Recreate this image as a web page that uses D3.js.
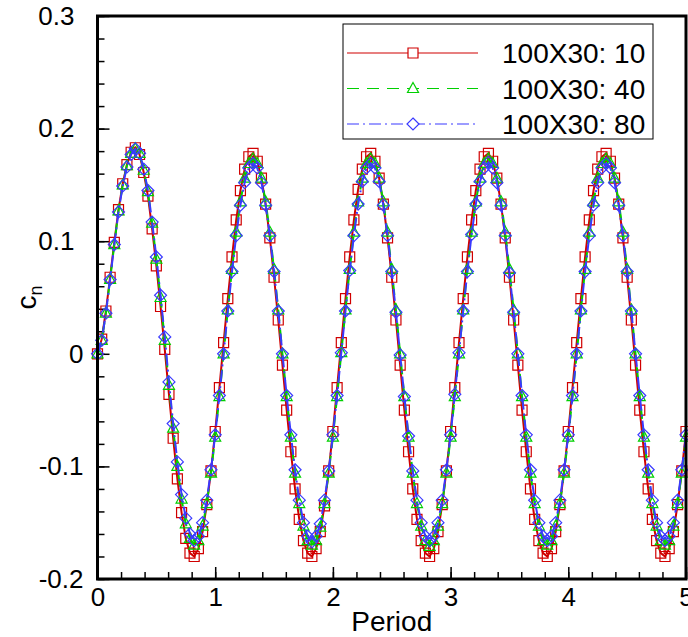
<!DOCTYPE html>
<html>
<head>
<meta charset="utf-8">
<script src="https://cdn.jsdelivr.net/npm/d3@7"></script>
<style>
    body { margin: 0; background: #fff; }
    text { font-family: "Liberation Sans", Arial, sans-serif; fill: #000; }
</style>
</head>
<body>
<svg id="chart" width="688" height="637"></svg>
<script>
// sample spacing along the period axis (28 samples per period)
const SAMPLES_PER_PERIOD = 28;

const SERIES_NAMES = ["100X30: 10", "100X30: 40", "100X30: 80"];

// c_n, one value per sample
const cn10 = [
    0.000, 0.013, 0.038, 0.068, 0.099, 0.128, 0.151, 0.168, 0.179, 0.183, 0.177, 0.161, 0.140, 0.111, 0.078, 0.042, 0.004, -0.036, -0.075, -0.111, -0.141, -0.164, -0.177,
    -0.180, -0.173, -0.158, -0.134, -0.104, -0.069, -0.030, 0.010, 0.049, 0.086, 0.119, 0.145, 0.164, 0.175, 0.178, 0.171, 0.156, 0.133, 0.103, 0.068, 0.030, -0.010, -0.050, -0.087, -0.120, -0.147, -0.166, -0.177,
    -0.180, -0.173, -0.158, -0.135, -0.104, -0.069, -0.030, 0.010, 0.049, 0.086, 0.119, 0.146, 0.164, 0.175, 0.178, 0.171, 0.156, 0.133, 0.103, 0.068, 0.030, -0.010, -0.050, -0.087, -0.120, -0.147, -0.166, -0.177,
    -0.180, -0.173, -0.158, -0.134, -0.104, -0.069, -0.030, 0.010, 0.049, 0.086, 0.119, 0.145, 0.164, 0.175, 0.178, 0.171, 0.156, 0.133, 0.103, 0.068, 0.030, -0.010, -0.050, -0.087, -0.120, -0.147, -0.166, -0.177,
    -0.180, -0.173, -0.158, -0.134, -0.104, -0.069, -0.030, 0.010, 0.049, 0.086, 0.119, 0.145, 0.164, 0.175, 0.178, 0.171, 0.156, 0.133, 0.103, 0.068, 0.030, -0.010, -0.050, -0.087, -0.120, -0.147, -0.166, -0.177,
    -0.180, -0.173, -0.158, -0.134, -0.104, -0.069
];

const cn40 = [
    0.000, 0.012, 0.036, 0.066, 0.097, 0.127, 0.150, 0.167, 0.178, 0.182, 0.178, 0.163, 0.144, 0.116, 0.084, 0.050, 0.012, -0.028, -0.066, -0.100, -0.129, -0.151, -0.164,
    -0.170, -0.166, -0.153, -0.133, -0.106, -0.074, -0.038, 0.000, 0.039, 0.075, 0.108, 0.135, 0.156, 0.169, 0.173, 0.169, 0.156, 0.135, 0.108, 0.075, 0.039, 0.000, -0.038, -0.074, -0.106, -0.133, -0.153, -0.166,
    -0.170, -0.166, -0.154, -0.133, -0.106, -0.074, -0.038, 0.001, 0.039, 0.075, 0.108, 0.135, 0.156, 0.169, 0.173, 0.169, 0.156, 0.135, 0.108, 0.075, 0.039, 0.000, -0.038, -0.074, -0.106, -0.133, -0.153, -0.166,
    -0.171, -0.166, -0.153, -0.133, -0.106, -0.074, -0.038, 0.000, 0.039, 0.075, 0.108, 0.135, 0.156, 0.169, 0.173, 0.169, 0.156, 0.135, 0.108, 0.075, 0.039, 0.000, -0.038, -0.074, -0.106, -0.133, -0.153, -0.166,
    -0.170, -0.166, -0.153, -0.133, -0.106, -0.074, -0.038, 0.000, 0.039, 0.075, 0.108, 0.135, 0.156, 0.169, 0.173, 0.169, 0.156, 0.135, 0.108, 0.075, 0.039, 0.000, -0.038, -0.074, -0.106, -0.133, -0.153, -0.166,
    -0.170, -0.166, -0.153, -0.133, -0.106, -0.074
];

const cn80 = [
    0.000, 0.012, 0.036, 0.066, 0.097, 0.126, 0.149, 0.166, 0.177, 0.182, 0.178, 0.164, 0.145, 0.117, 0.086, 0.052, 0.015, -0.025, -0.062, -0.096, -0.125, -0.146, -0.160,
    -0.166, -0.162, -0.150, -0.130, -0.103, -0.072, -0.037, 0.000, 0.038, 0.073, 0.105, 0.132, 0.152, 0.165, 0.169, 0.165, 0.152, 0.132, 0.105, 0.073, 0.038, 0.000, -0.037, -0.072, -0.103, -0.130, -0.150, -0.162,
    -0.167, -0.162, -0.151, -0.130, -0.104, -0.072, -0.037, 0.001, 0.038, 0.074, 0.105, 0.133, 0.153, 0.165, 0.169, 0.165, 0.153, 0.132, 0.105, 0.073, 0.037, -0.001, -0.038, -0.073, -0.104, -0.130, -0.150, -0.162,
    -0.166, -0.162, -0.150, -0.130, -0.103, -0.072, -0.036, 0.001, 0.038, 0.073, 0.106, 0.133, 0.153, 0.165, 0.170, 0.165, 0.152, 0.132, 0.105, 0.072, 0.037, 0.000, -0.037, -0.072, -0.103, -0.130, -0.150, -0.162,
    -0.166, -0.162, -0.150, -0.130, -0.103, -0.072, -0.037, 0.000, 0.038, 0.073, 0.105, 0.132, 0.152, 0.165, 0.169, 0.165, 0.152, 0.132, 0.105, 0.073, 0.038, 0.000, -0.037, -0.072, -0.103, -0.130, -0.150, -0.162,
    -0.166, -0.162, -0.150, -0.130, -0.103, -0.072
];

const X_TICKS = [0, 1, 2, 3, 4, 5];
const Y_TICKS = [-0.2, -0.1, 0, 0.1, 0.2, 0.3];
const Y_TICK_LABELS = ["-0.2", "-0.1", "0", "0.1", "0.2", "0.3"];

const STYLES = [
    { color: "#d00000", dash: null,        marker: "square" },
    { color: "#00d000", dash: "12,8",      marker: "triangle" },
    { color: "#3a3aff", dash: "12,4,2,4",  marker: "diamond" }
];

const frame = { left: 97.5, right: 686, top: 16, bottom: 579 };

const svg = d3.select("#chart");

const xScale = d3.scaleLinear().domain([0, 5]).range([frame.left, frame.right]);
const yScale = d3.scaleLinear().domain([-0.2, 0.3]).range([frame.bottom, frame.top]);

// marker outlines, centred on 0,0
function markerPath(type) {
    if (type === "square") return "M-5,-5H5V5H-5Z";
    if (type === "triangle") return "M0,-6L5.5,4H-5.5Z";
    return "M0,-6L6,0L0,6L-6,0Z";
}

function toPoints(values) {
    return values.map((v, i) => ({ x: i / SAMPLES_PER_PERIOD, y: v }));
}

// --- axes (ticks point inward) ---
const xAxis = svg.append("g").attr("transform", `translate(0,${frame.bottom})`);
xAxis.call(d3.axisBottom(xScale).tickValues(X_TICKS).tickSize(-12).tickPadding(22).tickFormat(d3.format("d")));
xAxis.append("g").call(d3.axisBottom(xScale).tickValues(d3.range(0, 5.01, 0.2)).tickSize(-7).tickFormat(""));

const yAxis = svg.append("g").attr("transform", `translate(${frame.left},0)`);
yAxis.call(d3.axisLeft(yScale).tickValues(Y_TICKS).tickSize(-12).tickPadding(14)
    .tickFormat((d, i) => Y_TICK_LABELS[i]));
yAxis.append("g").call(d3.axisLeft(yScale).tickValues(d3.range(-0.2, 0.301, 0.02)).tickSize(-7).tickFormat(""));

svg.selectAll(".domain").remove();
svg.selectAll(".tick line").attr("stroke", "#000").attr("stroke-width", 1.5);
xAxis.selectAll(".tick text").attr("font-size", 26).attr("dy", "0.2em");
yAxis.selectAll(".tick text").attr("font-size", 26)
    .attr("dx", d => d > 0 ? -9 : 0);

// --- data lines and markers ---
const lineGen = d3.line().x(d => xScale(d.x)).y(d => yScale(d.y));

[cn10, cn40, cn80].forEach((values, s) => {
    const st = STYLES[s];
    const pts = toPoints(values);
    const g = svg.append("g");
    g.append("path")
        .datum(pts)
        .attr("d", lineGen)
        .attr("fill", "none")
        .attr("stroke", st.color)
        .attr("stroke-width", 2)
        .attr("stroke-dasharray", st.dash);
    g.selectAll("path.mk")
        .data(pts)
        .join("path")
        .attr("class", "mk")
        .attr("d", markerPath(st.marker))
        .attr("transform", d => `translate(${xScale(d.x)},${yScale(d.y)})`)
        .attr("fill", "none")
        .attr("stroke", st.color)
        .attr("stroke-width", 1.2);
});

// frame
svg.append("rect")
    .attr("x", frame.left).attr("y", frame.top)
    .attr("width", frame.right - frame.left).attr("height", frame.bottom - frame.top)
    .attr("fill", "none").attr("stroke", "#000").attr("stroke-width", 3);

// axis titles
svg.append("text")
    .attr("x", (frame.left + frame.right) / 2).attr("y", 631)
    .attr("text-anchor", "middle").attr("font-size", 28)
    .text("Period");

const yTitle = svg.append("text")
    .attr("transform", `translate(36,${(frame.top + frame.bottom) / 2}) rotate(-90)`)
    .attr("text-anchor", "middle").attr("font-size", 28);
yTitle.append("tspan").text("c");
yTitle.append("tspan").attr("font-size", 18).attr("dy", 6).text("n");

// --- legend ---
const legend = svg.append("g");
legend.append("rect")
    .attr("x", 343).attr("y", 24).attr("width", 310).attr("height", 115)
    .attr("fill", "#fff").attr("stroke", "#000").attr("stroke-width", 1);

SERIES_NAMES.forEach((name, s) => {
    const st = STYLES[s];
    const y = 53 + s * 35.5;
    legend.append("line")
        .attr("x1", 347).attr("x2", 478).attr("y1", y).attr("y2", y)
        .attr("stroke", st.color).attr("stroke-width", 1.2)
        .attr("stroke-dasharray", st.dash);
    legend.append("path")
        .attr("d", markerPath(st.marker))
        .attr("transform", `translate(413,${y})`)
        .attr("fill", "#fff").attr("stroke", st.color).attr("stroke-width", 1.2);
    legend.append("text")
        .attr("x", 502).attr("y", y + 10)
        .attr("font-size", 28)
        .text(name);
});
</script>
</body>
</html>
